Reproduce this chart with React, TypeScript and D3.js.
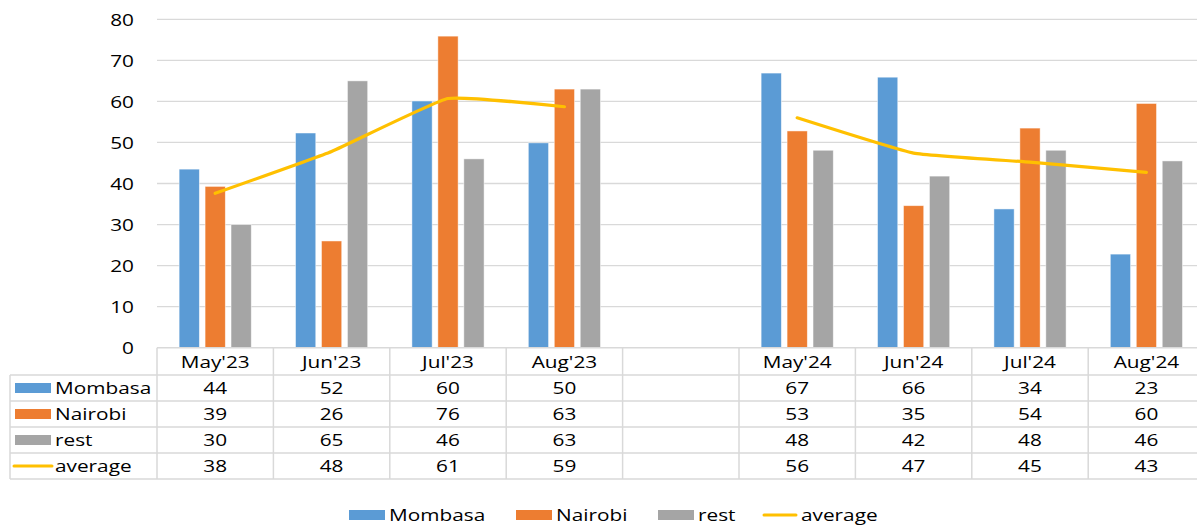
import React from 'react';
import * as d3 from 'd3';

const categories = ["May'23", "Jun'23", "Jul'23", "Aug'23", "", "May'24", "Jun'24", "Jul'24", "Aug'24"];
const seriesNames = ['Mombasa', 'Nairobi', 'rest'];
const mombasa = [43.5, 52.3, 60.1, 49.9, null, 66.9, 65.9, 33.8, 22.8];
const nairobi = [39.3, 26.0, 75.9, 63.0, null, 52.8, 34.6, 53.5, 59.5];
const rest = [30.0, 65.0, 46.0, 63.0, null, 48.1, 41.8, 48.1, 45.5];
const average = [37.6, 47.8, 60.7, 58.7, null, 56.0, 47.4, 45.2, 42.7];
const yTicks = [0, 10, 20, 30, 40, 50, 60, 70, 80];

const colors: Record<string, string> = {
  Mombasa: '#5B9BD5',
  Nairobi: '#ED7D31',
  rest: '#A5A5A5',
  average: '#FFC000',
};

const W = 1197;
const H = 527;
const plotLeft = 157;
const plotRight = 1204.6;
const yTop = 19.3;
const yBottom = 347.7;
const tableLeft = 10;
const rowTop = 375;
const rowH = 26;
const gridColor = '#D9D9D9';
const font = "'Open Sans', sans-serif";
const SX = 1.3; // the reference text is drawn wide

// stretched text helper
const T = ({ x, y, anchor = 'start', children }: { x: number; y: number; anchor?: string; children: React.ReactNode }) => (
  <text
    transform={`translate(${x},${y}) scale(${SX},1)`}
    textAnchor={anchor}
    dominantBaseline="central"
    fontFamily={font}
    fontSize={16}
    fill="#000"
  >
    {children}
  </text>
);

export default function App() {
  const values: Record<string, (number | null)[]> = { Mombasa: mombasa, Nairobi: nairobi, rest };

  const col = d3.scaleBand<string>().domain(categories.map((c, i) => i + '')).range([plotLeft, plotRight]);
  const bw = col.bandwidth();
  const inner = d3.scaleBand<string>().domain(seriesNames).range([bw * 0.19, bw * 0.81]).paddingInner(0.22);
  const y = d3.scaleLinear().domain([0, 80]).range([yBottom, yTop]);

  const line = d3
    .line<number | null>()
    .defined((d) => d != null)
    .x((_, i) => (col(i + '') || 0) + bw / 2)
    .y((d) => y(d as number))
    .curve(d3.curveCardinal.tension(0.65));

  const tableRows = [
    { name: 'Mombasa', data: mombasa, key: 'rect' },
    { name: 'Nairobi', data: nairobi, key: 'rect' },
    { name: 'rest', data: rest, key: 'rect' },
    { name: 'average', data: average, key: 'line' },
  ];
  const tableBottom = rowTop + rowH * tableRows.length;

  const legendX = [349, 516, 658, 764];

  return (
    <div style={{ position: 'fixed', left: 0, top: 0 }}>
      <svg width={W} height={H} style={{ display: 'block', background: '#fff' }}>
        {/* gridlines */}
        {yTicks.filter((t) => t > 0).map((t) => (
          <line key={t} x1={plotLeft} x2={plotRight} y1={y(t)} y2={y(t)} stroke={gridColor} strokeWidth={1.3} />
        ))}
        {yTicks.map((t) => (
          <T key={t} x={134} y={y(t)} anchor="end">{t}</T>
        ))}

        {/* bars */}
        {seriesNames.map((s) => (
          <g key={s}>
            {values[s].map((v, i) =>
              v == null ? null : (
                <rect
                  key={i}
                  x={(col(i + '') || 0) + (inner(s) || 0)}
                  y={y(v)}
                  width={inner.bandwidth()}
                  height={yBottom - y(v)}
                  fill={colors[s]}
                  stroke="#fff"
                  strokeOpacity={0.6}
                  strokeWidth={0.8}
                />
              )
            )}
          </g>
        ))}

        {/* average line */}
        <path d={line(average) || ''} fill="none" stroke={colors.average} strokeWidth={3.2} strokeLinecap="round" />

        {/* data table grid */}
        <line x1={plotLeft} x2={plotRight} y1={yBottom} y2={yBottom} stroke={gridColor} strokeWidth={1.5} />
        {tableRows.map((r, k) => (
          <line key={r.name} x1={tableLeft} x2={plotRight} y1={rowTop + k * rowH} y2={rowTop + k * rowH} stroke={gridColor} strokeWidth={1.5} />
        ))}
        <line x1={tableLeft} x2={plotRight} y1={tableBottom} y2={tableBottom} stroke={gridColor} strokeWidth={1.5} />
        <line x1={tableLeft} x2={tableLeft} y1={rowTop} y2={tableBottom} stroke={gridColor} strokeWidth={1.5} />
        {categories.map((c, i) => (
          <line key={i} x1={col(i + '') || 0} x2={col(i + '') || 0} y1={yBottom} y2={tableBottom} stroke={gridColor} strokeWidth={1.5} />
        ))}

        {/* header labels */}
        {categories.map((c, i) => (
          <T key={i} x={(col(i + '') || 0) + bw / 2} y={361.5} anchor="middle">{c}</T>
        ))}

        {/* rows */}
        {tableRows.map((r, k) => {
          const cy = rowTop + k * rowH + rowH / 2;
          return (
            <g key={r.name}>
              {r.key === 'rect' ? (
                <rect x={15} y={cy - 5} width={36} height={10} fill={colors[r.name]} />
              ) : (
                <line x1={14} x2={52} y1={cy} y2={cy} stroke={colors.average} strokeWidth={3} strokeLinecap="round" />
              )}
              <T x={55} y={cy}>{r.name}</T>
              {r.data.map((v, i) =>
                v == null ? null : (
                  <T key={i} x={(col(i + '') || 0) + bw / 2} y={cy} anchor="middle">{Math.round(v)}</T>
                )
              )}
            </g>
          );
        })}

        {/* legend */}
        {[...seriesNames, 'average'].map((s, i) => (
          <g key={s}>
            {s === 'average' ? (
              <line x1={legendX[i]} x2={legendX[i] + 32} y1={515} y2={515} stroke={colors.average} strokeWidth={3} strokeLinecap="round" />
            ) : (
              <rect x={legendX[i]} y={510} width={36} height={10} fill={colors[s]} />
            )}
            <T x={legendX[i] + (s === 'average' ? 37 : 40)} y={515}>{s}</T>
          </g>
        ))}
      </svg>
    </div>
  );
}
